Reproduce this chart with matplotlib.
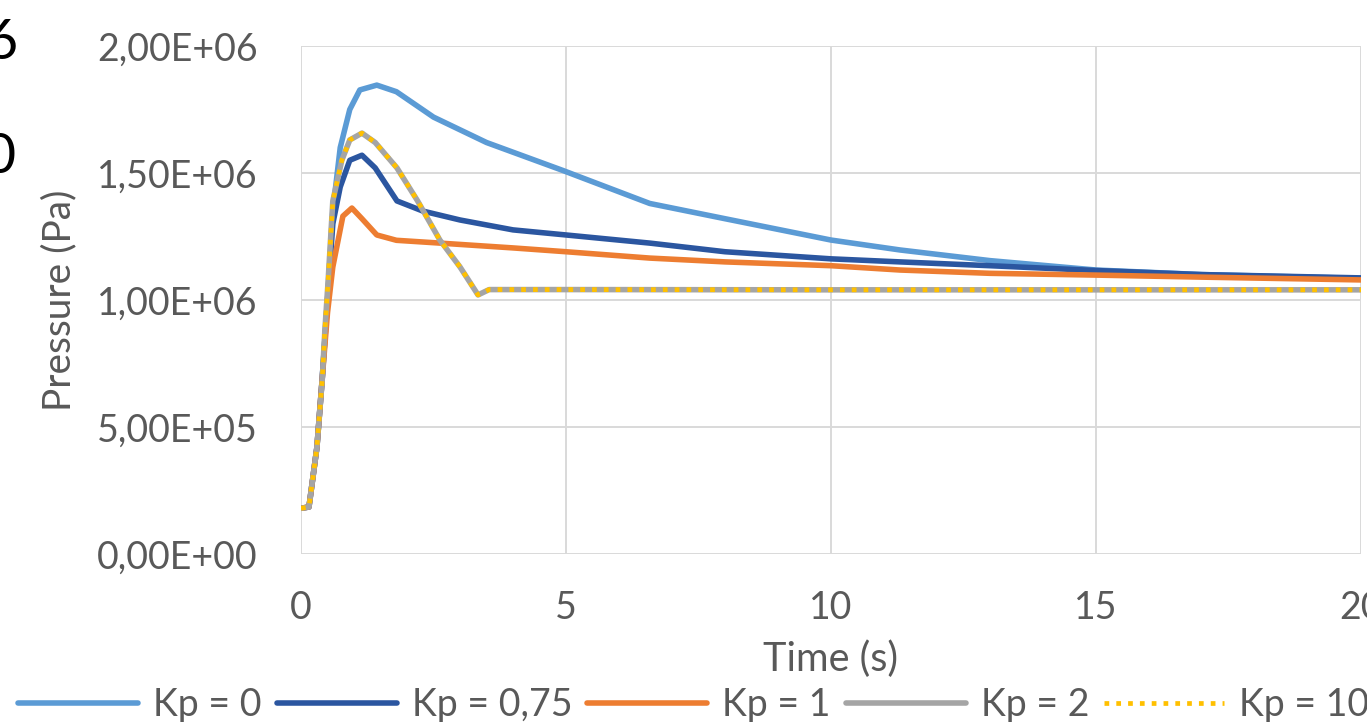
import matplotlib
matplotlib.use("Agg")
import matplotlib.pyplot as plt
from matplotlib.ticker import FuncFormatter

plt.rcParams['font.family'] = ['Lato', 'DejaVu Sans']

# pressure curves (time in s, pressure in Pa)
t_kp0 = [0, 0.15, 0.3, 0.4, 0.5, 0.6, 0.74, 0.92, 1.11, 1.43, 1.8, 2.5, 3.5,
         4.94, 6.58, 8, 10, 11.3, 13, 15, 17, 20]
p_kp0 = [1.8e5, 1.85e5, 4.2e5, 6.9e5, 1.0e6, 1.35e6, 1.6e6, 1.75e6, 1.827e6,
         1.846e6, 1.82e6, 1.72e6, 1.62e6, 1.51e6, 1.38e6, 1.32e6, 1.236e6,
         1.197e6, 1.155e6, 1.118e6, 1.10e6, 1.085e6]

t_kp075 = [0, 0.15, 0.3, 0.4, 0.5, 0.6, 0.74, 0.92, 1.15, 1.4, 1.81, 2.3, 3,
           4, 5, 6.58, 8, 10, 11.3, 13, 15, 17, 20]
p_kp075 = [1.8e5, 1.85e5, 4.2e5, 6.9e5, 1.0e6, 1.3e6, 1.445e6, 1.55e6, 1.57e6,
           1.52e6, 1.39e6, 1.35e6, 1.315e6, 1.276e6, 1.256e6, 1.224e6, 1.19e6,
           1.162e6, 1.15e6, 1.135e6, 1.116e6, 1.10e6, 1.087e6]

t_kp1 = [0, 0.15, 0.3, 0.4, 0.5, 0.6, 0.79, 0.96, 1.15, 1.43, 1.8, 2.62, 4,
         5, 6.58, 8, 10, 11.3, 13, 15, 17, 20]
p_kp1 = [1.8e5, 1.85e5, 4.2e5, 6.9e5, 9.5e5, 1.13e6, 1.33e6, 1.362e6, 1.32e6,
         1.256e6, 1.235e6, 1.224e6, 1.205e6, 1.19e6, 1.165e6, 1.15e6, 1.135e6,
         1.118e6, 1.105e6, 1.098e6, 1.09e6, 1.079e6]

# Kp = 2 and Kp = 10 lie on top of each other
t_kp2 = [0, 0.15, 0.3, 0.4, 0.45, 0.51, 0.6, 0.77, 0.92, 1.15, 1.4, 1.81, 2.2,
         2.62, 3.0, 3.34, 3.55, 5, 10, 15, 20]
p_kp2 = [1.8e5, 1.85e5, 4.2e5, 6.85e5, 8.8e5, 1.07e6, 1.39e6, 1.55e6, 1.63e6,
         1.657e6, 1.62e6, 1.52e6, 1.39e6, 1.236e6, 1.13e6, 1.02e6, 1.041e6,
         1.041e6, 1.04e6, 1.04e6, 1.04e6]
t_kp10 = t_kp2
p_kp10 = p_kp2

x_ticks = [0, 5, 10, 15, 20]
y_ticks = [0, 5e5, 1e6, 1.5e6, 2e6]

txt = '#595959'
grid = '#D9D9D9'


def excel_sci(v, pos):
    # Excel style 0,00E+00 with a decimal comma
    s = '%.2E' % v
    mant, exp = s.split('E')
    return mant.replace('.', ',') + 'E' + exp[0] + '%02d' % abs(int(exp))


fig = plt.figure(figsize=(13.67, 7.22), dpi=100)
ax = fig.add_axes([0.2202, 0.2327, 0.7754, 0.7036])

ax.plot(t_kp0, p_kp0, color='#5B9BD5', lw=4, label='Kp = 0', solid_capstyle='round')
ax.plot(t_kp075, p_kp075, color='#2B56A0', lw=4, label='Kp = 0,75', solid_capstyle='round')
ax.plot(t_kp1, p_kp1, color='#ED7D31', lw=4, label='Kp = 1', solid_capstyle='round')
ax.plot(t_kp2, p_kp2, color='#A5A5A5', lw=4, label='Kp = 2', solid_capstyle='round')
ax.plot(t_kp10, p_kp10, color='#FFC000', lw=3.4, ls=(0, (1, 1.5)),
        label='Kp = 10', dash_capstyle='butt')

ax.set_xlim(0, 20)
ax.set_ylim(0, 2e6)
ax.set_xticks(x_ticks)
ax.set_yticks(y_ticks)
ax.yaxis.set_major_formatter(FuncFormatter(excel_sci))
ax.grid(True, color=grid, lw=1.4)
ax.set_axisbelow(True)
for s in ax.spines.values():
    s.set_visible(False)
ax.tick_params(length=0, labelsize=27, colors=txt)
ax.tick_params(axis='y', pad=31)
ax.tick_params(axis='x', pad=26)

ax.set_xlabel('Time (s)', fontsize=28.5, color=txt, labelpad=10)
ax.set_ylabel('Pressure (Pa)', fontsize=28, color=txt, labelpad=14)

fig.legend(loc='center left', bbox_to_anchor=(0.0132, 0.024), ncol=5, frameon=False,
           fontsize=27, labelcolor=txt, handlelength=3.2, handletextpad=0.4,
           columnspacing=0.4, borderpad=0, borderaxespad=0)

# fragments of neighbouring text cut off at the left edge
fig.text(0.0132, 0.9404, '6', fontsize=40, ha='right', va='center', color='black')
fig.text(0.011, 0.7825, '0', fontsize=40, ha='right', va='center', color='black')

fig.savefig('out.png', dpi=100)
